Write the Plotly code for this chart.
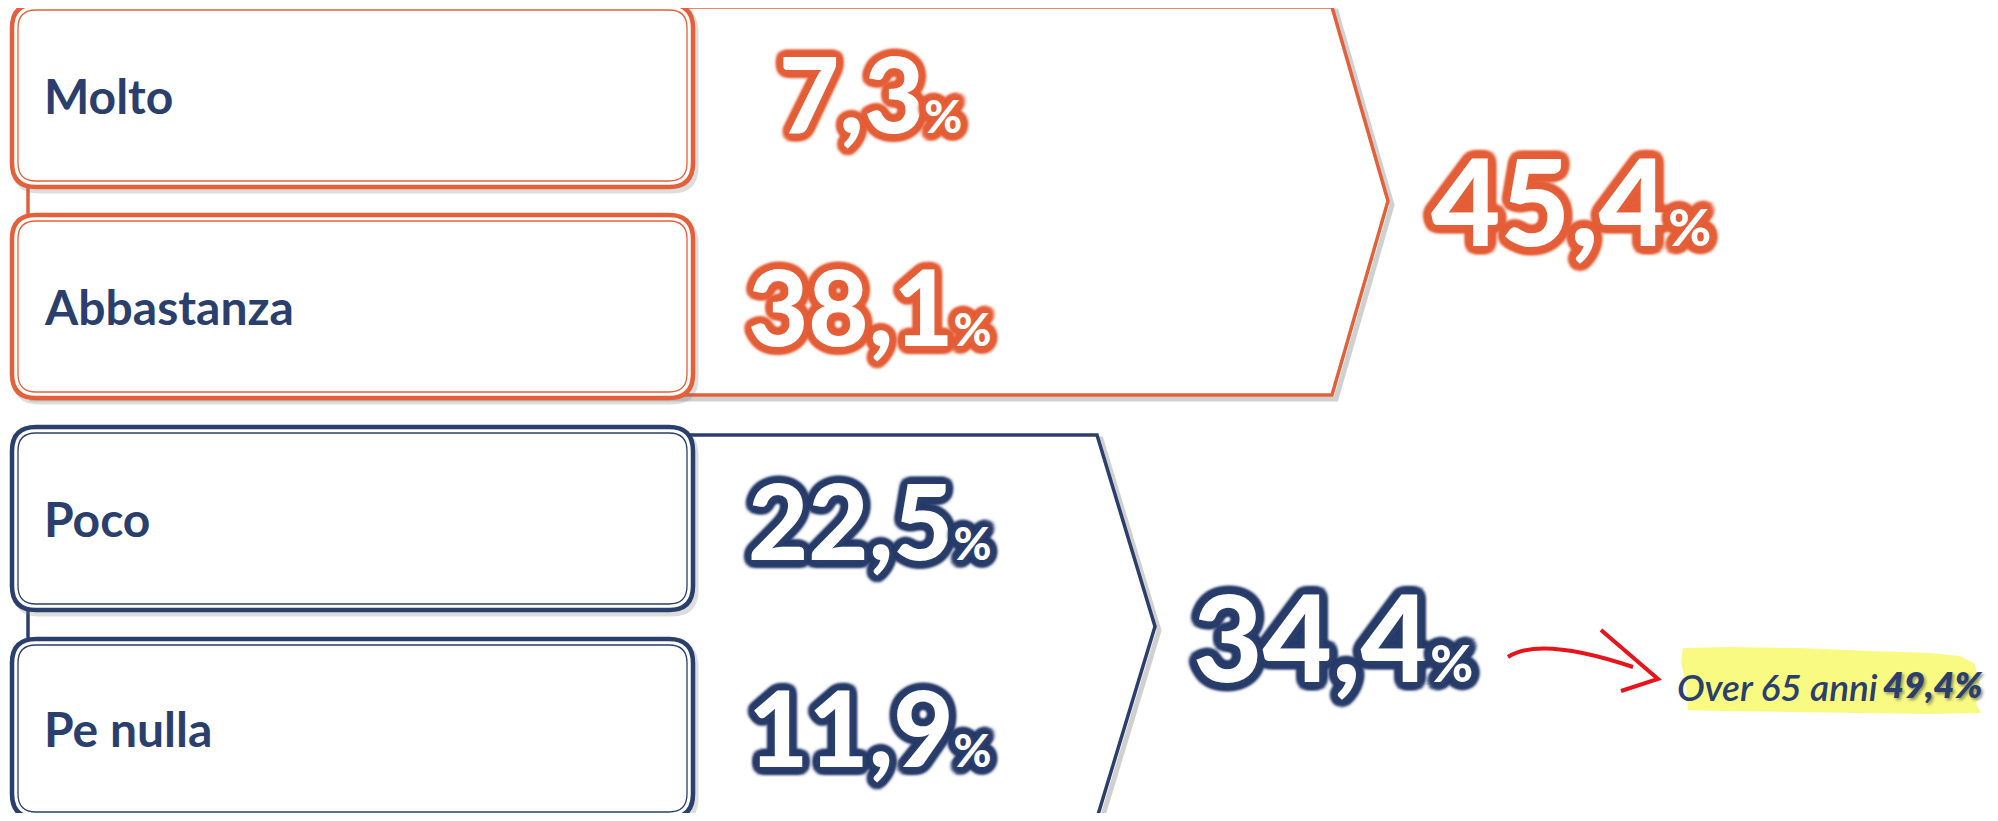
import plotly.graph_objects as go
import math

# ---------------- data ----------------
categories = ["Molto", "Abbastanza", "Poco", "Pe nulla"]
values = [7.3, 38.1, 22.5, 11.9]
group_totals = [45.4, 34.4]          # Molto+Abbastanza, Poco+Pe nulla
note_label = "Over 65 anni"
note_value = 49.4

# ---------------- style ----------------
ORANGE = "#E4603A"
NAVY = "#2B3F6C"
RED = "#E8141B"
YELLOW = "#F8FA82"
FONT = "Lato"
W, H = 1998, 821
PAGE_MARGIN = 8   # default body margin of the html page

row_colors = [ORANGE, ORANGE, NAVY, NAVY]
group_colors = [ORANGE, NAVY]
box_x0, box_x1 = 12, 693
box_tops = [4, 215, 427, 639]
box_bots = [187, 398, 610, 818]
value_x = 870
value_cy = [92, 305, 519, 726]
groups = [  # x_left, top, bottom, corner_x, tip_x
    dict(x0=28, top=7, bot=395, cx=1332, tip=1388),
    dict(x0=28, top=435, bot=818, cx=1097, tip=1155),
]
total_pos = [(1571, 200), (1333, 636)]


def fmt(v):
    return f"{v:.1f}".replace(".", ",")


def rrect(x0, y0, x1, y1, r):
    return (f"M {x0+r},{y0} L {x1-r},{y0} Q {x1},{y0} {x1},{y0+r} "
            f"L {x1},{y1-r} Q {x1},{y1} {x1-r},{y1} L {x0+r},{y1} "
            f"Q {x0},{y1} {x0},{y1-r} L {x0},{y0+r} Q {x0},{y0} {x0+r},{y0} Z")


def glow(c, r=7, blur=3):
    parts = []
    for rr in (r * 0.5, r):
        for k in range(16):
            a = 2 * math.pi * k / 16
            parts.append(f"{rr*math.cos(a):.1f}px {rr*math.sin(a):.1f}px {blur}px {c}")
    parts.append(f"0px 0px 10px {c}")
    return ", ".join(parts)


fig = go.Figure()
fig.add_trace(go.Scatter(x=[0, W], y=[0, H], mode="markers",
                         marker=dict(opacity=0), hoverinfo="skip", showlegend=False))

shapes = []
# pentagons (with soft shadow)
for g, col in zip(groups, group_colors):
    tipy = (g["top"] + g["bot"]) / 2
    def pent(dx=0, dy=0):
        return (f"M {g['x0']+dx},{g['top']+dy} L {g['cx']+dx},{g['top']+dy} "
                f"L {g['tip']+dx},{tipy+dy} L {g['cx']+dx},{g['bot']+dy} "
                f"L {g['x0']+dx},{g['bot']+dy} Z")
    shapes.append(dict(type="path", path=pent(4, 4), fillcolor="rgba(0,0,0,0)",
                       line=dict(color="rgba(120,120,120,0.35)", width=5), layer="below"))
    shapes.append(dict(type="path", path=pent(), fillcolor="white",
                       line=dict(color=col, width=3.5), layer="below"))

# rounded boxes with double border
for t, b, col in zip(box_tops, box_bots, row_colors):
    shapes.append(dict(type="path", path=rrect(box_x0 + 3, t + 4, box_x1 + 3, b + 4, 24),
                       fillcolor="rgba(0,0,0,0)",
                       line=dict(color="rgba(120,120,120,0.25)", width=5), layer="below"))
    shapes.append(dict(type="path", path=rrect(box_x0, t, box_x1, b, 24),
                       fillcolor="white", line=dict(color=col, width=4.5), layer="below"))
    shapes.append(dict(type="path", path=rrect(box_x0 + 6, t + 6, box_x1 - 6, b - 6, 18),
                       fillcolor="rgba(0,0,0,0)", line=dict(color=col, width=1.3), layer="below"))

# yellow highlight (brush-like edges)
hl = [(1683, 648), (1730, 647), (1800, 648), (1870, 651), (1930, 653), (1960, 656),
      (1975, 664), (1980, 688), (1976, 704), (1981, 713), (1930, 714), (1860, 713),
      (1790, 712), (1720, 711), (1688, 710), (1686, 685), (1681, 662)]
shapes.append(dict(type="path",
                   path="M " + " L ".join(f"{x},{y}" for x, y in hl) + " Z",
                   fillcolor=YELLOW, line=dict(width=0), layer="below"))

# red hand-drawn arrow
shapes.append(dict(type="path", path="M 1508,657 Q 1540,636 1633,667",
                   line=dict(color=RED, width=4)))
shapes.append(dict(type="path", path="M 1601,630 L 1658,679 L 1621,691",
                   line=dict(color=RED, width=4)))

annotations = []
# category labels
for cat, t, b in zip(categories, box_tops, box_bots):
    annotations.append(dict(x=42, y=(t + b) / 2, text=cat, showarrow=False,
                            xanchor="left", yanchor="middle",
                            font=dict(family=FONT, size=48, color=NAVY, weight=700)))
# values
for v, cy, col in zip(values, value_cy, row_colors):
    annotations.append(dict(x=value_x, y=cy,
                            text=f"{fmt(v)}<span style='font-size:46px'>%</span>",
                            showarrow=False, xanchor="center", yanchor="middle",
                            font=dict(family=FONT, size=104, color="white", weight=900,
                                      shadow=glow(col))))
# group totals
for v, (x, y), col in zip(group_totals, total_pos, group_colors):
    annotations.append(dict(x=x, y=y,
                            text=f"{fmt(v)}<span style='font-size:52px'>%</span>",
                            showarrow=False, xanchor="center", yanchor="middle",
                            font=dict(family=FONT, size=120, color="white", weight=900,
                                      shadow=glow(col, r=8))))
# note
annotations.append(dict(x=1675, y=686, text=f"<i>{note_label}</i>", showarrow=False,
                        xanchor="left", yanchor="middle",
                        font=dict(family=FONT, size=37, color=NAVY, weight=600)))
annotations.append(dict(x=1984, y=684, text=f"<i>{fmt(note_value)}%</i>", showarrow=False,
                        xanchor="right", yanchor="middle",
                        font=dict(family=FONT, size=36, color=NAVY, weight=800,
                                  shadow="2px 2px 3px rgba(60,60,60,0.55)")))

m = PAGE_MARGIN
fig.update_layout(
    width=W - 2 * m, height=H - 2 * m, margin=dict(l=0, r=0, t=0, b=0),
    paper_bgcolor="white", plot_bgcolor="white",
    xaxis=dict(range=[m, W - m], visible=False, fixedrange=True),
    yaxis=dict(range=[H - m, m], visible=False, fixedrange=True),
    shapes=shapes, annotations=annotations, showlegend=False,
)
fig.write_html("out.html")
